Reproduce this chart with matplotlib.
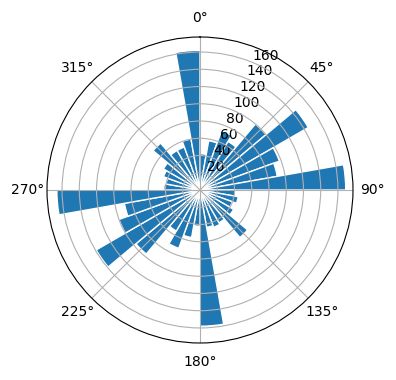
import numpy as np
import matplotlib
matplotlib.use('Agg')
import matplotlib.pyplot as plt

# bin start angles (deg) and counts per 10 degree bin
bin_start_deg = list(range(0, 360, 10))
counts = [42, 58, 73, 65, 100, 145, 98, 91, 169,
          41, 45, 40, 45, 72, 44, 46, 44, 158,
          42, 56, 72, 55, 97, 139, 100, 89, 166,
          42, 40, 45, 49, 71, 53, 53, 60, 162]
bin_width_deg = 10

fig = plt.figure(figsize=(3.96, 3.80), dpi=100)
ax = fig.add_axes([47 / 396, 37 / 380, 306 / 396, 306 / 380], projection='polar')
ax.set_theta_zero_location('N')
ax.set_theta_direction(-1)

ax.bar(np.deg2rad(bin_start_deg), counts, width=np.deg2rad(bin_width_deg),
       align='edge', color='#1f77b4', edgecolor='white', linewidth=1)

fig.savefig('out.png', dpi=100)
